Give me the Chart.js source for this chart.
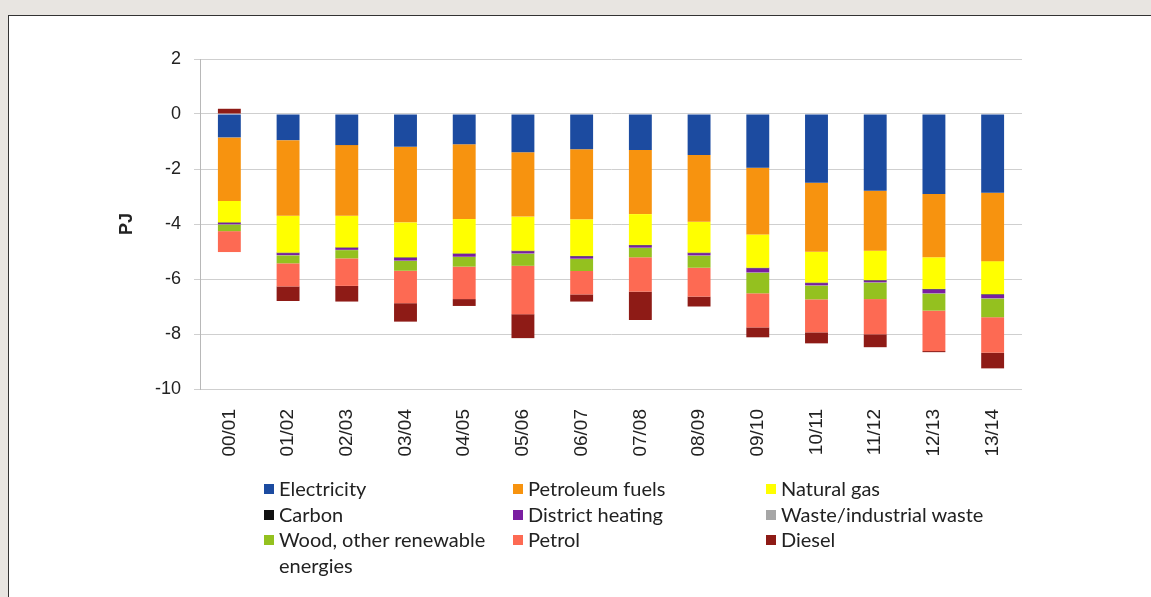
<!DOCTYPE html>
<html>
<head>
<meta charset="utf-8">
<script src="https://cdn.jsdelivr.net/npm/chart.js@4/dist/chart.umd.min.js"></script>
<style>
  body { margin: 0; background: #e8e5e1; width: 1151px; height: 597px; overflow: hidden; position: relative; }
  #frame { position: absolute; left: 8px; top: 15px; width: 1200px; height: 620px; background: #fff; border: 1.5px solid #333; }
  #wrap { position: absolute; left: 0; top: 0; width: 1151px; height: 597px; }
  #legend { position: absolute; left: 264px; top: 476px; font-family: Lato, sans-serif; font-size: 20px; color: #222; }
  #legend .item { position: absolute; width: 300px; line-height: 25.5px; }
  #legend .box { position: absolute; left: 0; top: 8px; width: 10px; height: 10px; }
  #legend .txt { position: absolute; left: 15px; top: 0; white-space: normal; }
</style>
</head>
<body>
<div id="frame"></div>
<div id="wrap"><canvas id="chart" width="1151" height="597"></canvas></div>
<div id="legend"></div>
<script>
var labels = ['00/01','01/02','02/03','03/04','04/05','05/06','06/07','07/08','08/09','09/10','10/11','11/12','12/13','13/14'];

var electricity = [-0.85,-0.95,-1.13,-1.19,-1.10,-1.39,-1.28,-1.31,-1.49,-1.95,-2.50,-2.79,-2.91,-2.86];
var petroleum   = [-2.31,-2.75,-2.57,-2.75,-2.72,-2.34,-2.55,-2.33,-2.43,-2.43,-2.51,-2.18,-2.30,-2.49];
var naturalGas  = [-0.78,-1.34,-1.15,-1.27,-1.25,-1.24,-1.33,-1.12,-1.12,-1.21,-1.12,-1.07,-1.15,-1.20];
var carbon      = [-0.02,-0.02,-0.02,-0.02,-0.02,-0.02,-0.02,-0.02,-0.02,-0.02,-0.02,-0.02,-0.02,-0.02];
var district    = [-0.05,-0.07,-0.07,-0.10,-0.10,-0.08,-0.08,-0.08,-0.08,-0.15,-0.08,-0.06,-0.14,-0.13];
var waste       = [-0.01,-0.01,-0.01,-0.01,-0.01,-0.01,-0.01,-0.01,-0.01,-0.01,-0.01,-0.01,-0.01,-0.01];
var wood        = [-0.24,-0.29,-0.30,-0.36,-0.35,-0.44,-0.44,-0.34,-0.44,-0.75,-0.50,-0.60,-0.62,-0.68];
var petrol      = [-0.76,-0.84,-1.00,-1.18,-1.18,-1.76,-0.85,-1.25,-1.05,-1.24,-1.20,-1.28,-1.47,-1.29];
var diesel      = [0.19,-0.53,-0.57,-0.67,-0.25,-0.87,-0.26,-1.03,-0.36,-0.36,-0.40,-0.47,-0.04,-0.57];

var yTicks = [2, 0, -2, -4, -6, -8, -10];

var series = [
    { label: 'Electricity', data: electricity, color: '#1c4ba0' },
    { label: 'Petroleum fuels', data: petroleum, color: '#f7930f' },
    { label: 'Natural gas', data: naturalGas, color: '#ffff00' },
    { label: 'Carbon', data: carbon, color: '#111111' },
    { label: 'District heating', data: district, color: '#7a1ea1' },
    { label: 'Waste/industrial waste', data: waste, color: '#a6a6a6' },
    { label: 'Wood, other renewable energies', data: wood, color: '#94c11f' },
    { label: 'Petrol', data: petrol, color: '#fd6a53' },
    { label: 'Diesel', data: diesel, color: '#8e1b16' }
];

// legend in 3 columns
var legend = document.getElementById('legend');
var colX = [0, 249, 502];
series.forEach(function (s, i) {
    var item = document.createElement('div');
    item.className = 'item';
    item.style.left = colX[i % 3] + 'px';
    item.style.top = (Math.floor(i / 3) * 25.5) + 'px';
    var box = document.createElement('span');
    box.className = 'box';
    box.style.background = s.color;
    var txt = document.createElement('span');
    txt.className = 'txt';
    txt.textContent = s.label;
    if (i % 3 == 0) txt.style.width = '225px';
    item.appendChild(box);
    item.appendChild(txt);
    legend.appendChild(item);
});

var ctx = document.getElementById('chart');
var chart = new Chart(ctx, {
    type: 'bar',
    data: {
        labels: labels,
        datasets: series.map(function (s) {
            return {
                label: s.label,
                data: s.data,
                backgroundColor: s.color,
                borderWidth: 0,
                barPercentage: 0.39,
                categoryPercentage: 1
            };
        })
    },
    options: {
        responsive: false,
        animation: false,
        layout: { padding: { left: 100, right: 129, top: 59, bottom: 118 } },
        plugins: {
            legend: { display: false },
            tooltip: { enabled: false }
        },
        scales: {
            x: {
                stacked: true,
                grid: { display: false },
                border: { display: false },
                ticks: {
                    minRotation: 90,
                    maxRotation: 90,
                    padding: 12,
                    color: '#222',
                    font: { family: 'Liberation Sans', size: 19 }
                },
                afterFit: function (scale) { scale.height = 90; }
            },
            y: {
                stacked: true,
                min: -10,
                max: 2,
                afterBuildTicks: function (scale) {
                    scale.ticks = yTicks.map(function (v) { return { value: v }; });
                },
                grid: { color: '#cfcfcf', tickLength: 6 },
                border: { color: '#b8b8b8' },
                ticks: {
                    padding: 13,
                    color: '#222',
                    font: { family: 'Liberation Sans', size: 18 }
                },
                title: {
                    display: true,
                    text: 'PJ',
                    color: '#222',
                    padding: { top: 16, bottom: 0 },
                    font: { family: 'Liberation Sans', size: 18, weight: 'bold' }
                },
                afterFit: function (scale) { scale.width = 100; }
            }
        }
    }
});
</script>
</body>
</html>
